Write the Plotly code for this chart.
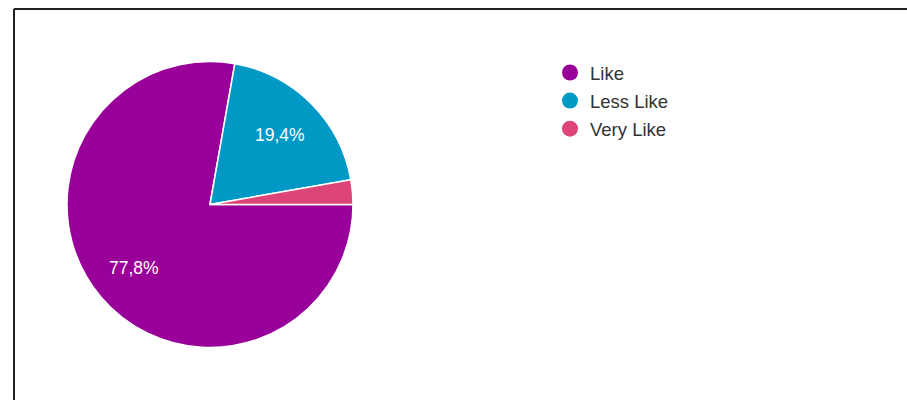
import math
import plotly.graph_objects as go

# Survey responses
categories = ["Like", "Less Like", "Very Like"]
counts = [28, 7, 1]
colors = ["#990099", "#0099c6", "#dd4477"]

W, H = 907, 400

# Pie placement (pixels)
cx, cy, R = 210, 204.5, 143
start_deg = 0  # first slice starts at 3 o'clock, going clockwise

fig = go.Figure()

fig.add_trace(go.Pie(
    labels=categories,
    values=counts,
    sort=False,
    direction="clockwise",
    rotation=90,
    marker=dict(colors=colors, line=dict(color="white", width=1.5)),
    textinfo="none",
    showlegend=False,
    hoverinfo="label+percent",
    domain=dict(x=[(cx - R) / W, (cx + R) / W], y=[(H - cy - R) / H, (H - cy + R) / H]),
))

# Percentage labels placed at each slice's mid-angle
total = sum(counts)
angle = start_deg
annotations = []
for name, v in zip(categories, counts):
    share = v / total
    sweep = share * 360
    mid = math.radians(angle - sweep / 2)
    angle -= sweep
    if share < 0.05:
        continue
    px = cx + 0.69 * R * math.cos(mid)
    py = cy - 0.69 * R * math.sin(mid)
    annotations.append(dict(
        x=px / W, y=(H - py) / H, xref="paper", yref="paper",
        text=f"{share * 100:.1f}%".replace(".", ","),
        showarrow=False, xanchor="center", yanchor="middle",
        font=dict(family="Arial, Liberation Sans, sans-serif", size=17.5, color="white"),
    ))

# Legend entries with round swatches
for i, (name, col) in enumerate(zip(categories, colors)):
    fig.add_trace(go.Scatter(
        x=[None], y=[None], mode="markers", name=name,
        legendgroup=f"g{i}",
        marker=dict(symbol="circle", size=16, color=col),
        showlegend=True,
    ))

fig.update_layout(
    width=W, height=H,
    margin=dict(l=0, r=0, t=0, b=0),
    paper_bgcolor="white",
    plot_bgcolor="white",
    xaxis=dict(visible=False),
    yaxis=dict(visible=False),
    annotations=annotations,
    legend=dict(
        x=550 / W, y=(H - 54) / H, xanchor="left", yanchor="top",
        font=dict(family="Arial, Liberation Sans, sans-serif", size=18.5, color="#333333"),
        bgcolor="rgba(0,0,0,0)",
        tracegroupgap=1,
        itemwidth=30,
    ),
    shapes=[
        dict(type="line", xref="paper", yref="paper",
             x0=14 / W, x1=1, y0=(H - 9) / H, y1=(H - 9) / H,
             line=dict(color="#222222", width=2)),
        dict(type="line", xref="paper", yref="paper",
             x0=14 / W, x1=14 / W, y0=0, y1=(H - 9) / H,
             line=dict(color="#222222", width=2)),
    ],
)

fig.write_html("out.html")
